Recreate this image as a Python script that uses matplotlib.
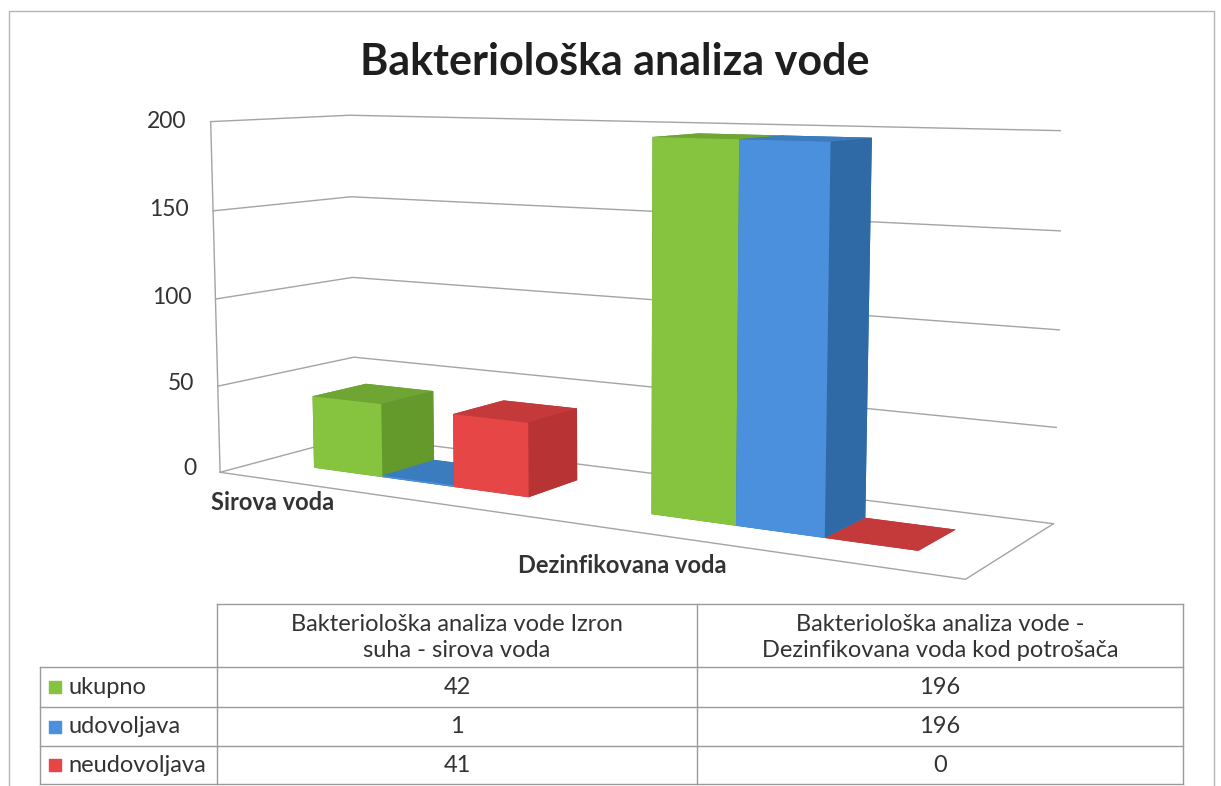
import numpy as np
import matplotlib
matplotlib.use('Agg')
import matplotlib.pyplot as plt
from matplotlib.patches import Rectangle
from mpl_toolkits.mplot3d import proj3d

# data
categories = ['Sirova voda', 'Dezinfikovana voda']
table_headers = ['Bakteriološka analiza vode Izron\nsuha - sirova voda',
                 'Bakteriološka analiza vode -\nDezinfikovana voda kod potrošača']
series = ['ukupno', 'udovoljava', 'neudovoljava']
ukupno = [42, 196]
udovoljava = [1, 196]
neudovoljava = [41, 0]
z_ticks = [0, 50, 100, 150, 200]

front_col = ['#86c440', '#4a90dc', '#e64646']
side_col = ['#64992c', '#2f6aa6', '#b83334']
top_col = ['#6fa533', '#3b7cbf', '#c43a3b']
grid_col = '#a3a3a8'
text_col = '#333333'

W, H = 1221, 786
plt.rcParams['font.family'] = ['Lato', 'DejaVu Sans']
fig = plt.figure(figsize=(W / 100, H / 100), dpi=100)

# 3d chart (view found by fitting the floor/wall corners of the original)
ax = fig.add_axes([0.1, 0.2, 0.6, 0.6 * W / H], projection='3d',
                  proj_type='persp', focal_length=0.3976)
ax.computed_zorder = False
ax.view_init(elev=7.63, azim=-59.17)
ax.set_box_aspect((1, 0.2763, 0.4447))
ax.set_xlim(0, 2)
ax.set_ylim(0, 1)
ax.set_zlim(0, 200)
ax.set_axis_off()

# walls: gridlines on left and back wall, floor outline
for t in z_ticks:
    ax.plot([0, 0, 2], [0, 1, 1], [t, t, t], color=grid_col, lw=1, zorder=1)
ax.plot([0, 0], [0, 0], [0, 200], color=grid_col, lw=1, zorder=1)
ax.plot([0, 2, 2], [0, 0, 1], [0, 0, 0], color=grid_col, lw=1, zorder=1)

bw = 0.22
values = [ukupno, udovoljava, neudovoljava]
xs, dzs, faces = [], [], []
for i, vals in enumerate(values):
    for c, v in enumerate(vals):
        xs.append(c + 0.5 - 1.5 * bw + i * bw)
        dzs.append(v)
        # -z, +z, -y, +y, -x, +x
        faces += [side_col[i], top_col[i], front_col[i], side_col[i], side_col[i], side_col[i]]
n = len(xs)
ax.bar3d(xs, [0.3] * n, [0] * n, bw, 0.4, dzs, color=faces, shade=False, zorder=3)

# move/scale the 3d axes so the box corners land where they are in the original
corners = np.array([[0, 0, 0], [2, 0, 0], [2, 1, 0], [0, 1, 0],
                    [0, 1, 200], [2, 1, 200], [0, 0, 200]], float)
targets = np.array([[222, 463], [967, 583], [1052, 519], [352, 447],
                    [355, 112], [1065, 133], [207, 122]], float)
targets[:, 1] = H - targets[:, 1]


def to_display(x, y, z):
    px, py, _ = proj3d.proj_transform(np.asarray(x, float), np.asarray(y, float),
                                      np.asarray(z, float), ax.get_proj())
    return ax.transData.transform(np.c_[px, py])


fig.canvas.draw()
pos = ax.get_position()
S = pos.width * W
c0 = np.array([(pos.x0 + pos.width / 2) * W, (pos.y0 + pos.height / 2) * H])
d = to_display(corners[:, 0], corners[:, 1], corners[:, 2]) - c0
dd, dt = d - d.mean(0), targets - targets.mean(0)
k = (dd * dt).sum() / (dd * dd).sum()
c1 = targets.mean(0) - k * d.mean(0)
S2 = S * k
ax.set_position([(c1[0] - S2 / 2) / W, (c1[1] - S2 / 2) / H, S2 / W, S2 / H])
fig.canvas.draw()

# overlay in pixel coords for title, frame, axis labels and table
tax = fig.add_axes([0, 0, 1, 1])
tax.set_xlim(0, W)
tax.set_ylim(H, 0)
tax.axis('off')
tax.add_patch(Rectangle((9, 11), 1205, 800, fill=False, ec='#b5b5b5', lw=1, clip_on=False))
tax.text(615, 62, 'Bakteriološka analiza vode', ha='center', va='center',
         fontsize=31, weight='bold', color='#1e1e1e')

# value axis labels, just left of the left wall edge
tick_px = to_display([-0.08] * len(z_ticks), [0] * len(z_ticks), z_ticks)
for t, (x, y) in zip(z_ticks, tick_px):
    tax.text(x, H - y, str(t), ha='right', va='center', fontsize=16.5, color=text_col)

# category labels in front of the floor
cat_px = to_display([0.53, 1.5], [-0.75, -0.95], [15, 18])
for name, (x, y) in zip(categories, cat_px):
    tax.text(x, H - y, name, ha='center', va='center', fontsize=17,
             weight='bold', color=text_col)

col_x = [40, 217, 697, 1183]
row_y = [604, 667, 707, 746, 784]
lc = '#9a9a9a'
tax.plot([col_x[1], col_x[3]], [row_y[0]] * 2, color=lc, lw=1)
for y in row_y[1:]:
    tax.plot([col_x[0], col_x[3]], [y, y], color=lc, lw=1)
tax.plot([col_x[0]] * 2, [row_y[1], row_y[-1]], color=lc, lw=1)
for x in col_x[1:]:
    tax.plot([x, x], [row_y[0], row_y[-1]], color=lc, lw=1)

for j, head in enumerate(table_headers):
    tax.text((col_x[j + 1] + col_x[j + 2]) / 2, (row_y[0] + row_y[1]) / 2 + 2, head,
             ha='center', va='center', fontsize=17, color=text_col, linespacing=1.3)
for i, name in enumerate(series):
    yc = (row_y[i + 1] + row_y[i + 2]) / 2
    tax.scatter([55], [yc], marker='s', s=85, color=front_col[i])
    tax.text(68, yc, name, ha='left', va='center', fontsize=17, color=text_col)
    for j in range(2):
        tax.text((col_x[j + 1] + col_x[j + 2]) / 2, yc, str(values[i][j]),
                 ha='center', va='center', fontsize=17, color=text_col)

fig.savefig('out.png', dpi=100)
